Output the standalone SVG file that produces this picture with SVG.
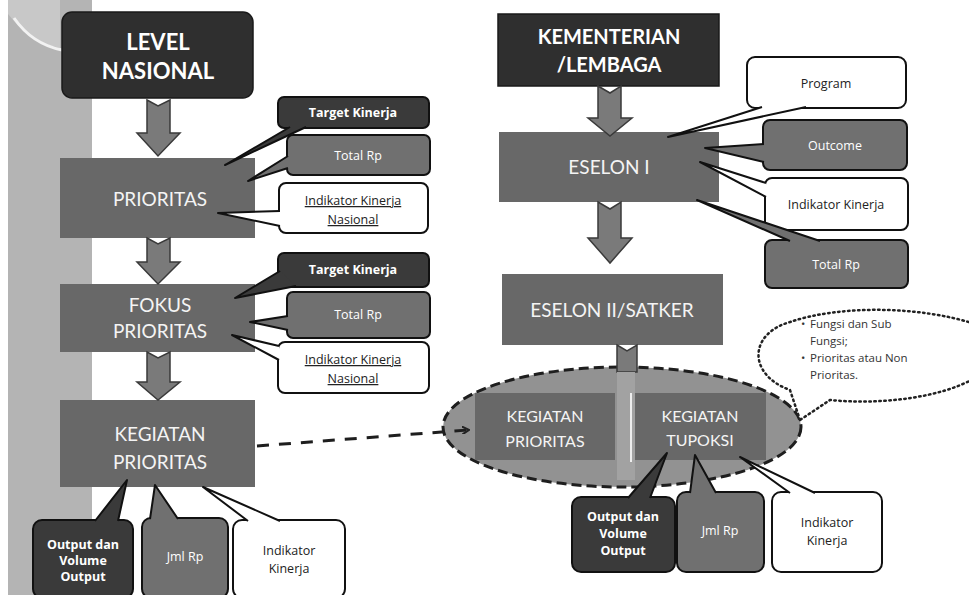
<svg xmlns="http://www.w3.org/2000/svg" width="969" height="595" viewBox="0 0 969 595">
<defs>
<style>
.bg{fill:#fff}
.strip{fill:#b4b4b4}
.hdr{fill:#2f2f2f;stroke:#1a1a1a;stroke-width:1.5}
.main{fill:#686868}
.cdark{fill:#3a3a3a;stroke:#111;stroke-width:2}
.cgray{fill:#707070;stroke:#111;stroke-width:2}
.cwhite{fill:#fff;stroke:#111;stroke-width:2}
.tdark{fill:#3a3a3a;stroke:#111;stroke-width:2;stroke-linejoin:round}
.tgray{fill:#707070;stroke:#111;stroke-width:2;stroke-linejoin:round}
.twhite{fill:#fff;stroke:#111;stroke-width:2;stroke-linejoin:round}
.barrow{fill:#7a7a7a;stroke:#3a3a3a;stroke-width:1.5}
.h1{font-family:Lato,"Liberation Sans",sans-serif;font-weight:bold;fill:#fff;text-anchor:middle}
.h2{font-family:Lato,"Liberation Sans",sans-serif;fill:#f4f4f4;text-anchor:middle}
.cw{font-family:"Open Sans","Liberation Sans",sans-serif;font-size:12.5px;fill:#fff;text-anchor:middle}
.cd{font-family:"Open Sans","Liberation Sans",sans-serif;font-size:12.5px;fill:#222;text-anchor:middle}
.note{font-family:"Open Sans","Liberation Sans",sans-serif;font-size:11.5px;fill:#333}
</style>
<marker id="ah" markerWidth="8" markerHeight="8" refX="6" refY="4" orient="auto" markerUnits="userSpaceOnUse">
<path d="M0,0 L7,4 L0,8" fill="none" stroke="#222" stroke-width="2"/>
</marker>
</defs>
<rect class="bg" x="0" y="0" width="969" height="595"/>
<g id="strip">
<rect class="strip" x="8" y="0" width="84" height="595"/>
<path d="M8,0 L60,0 L60,48 Q30,42 8,14 Z" fill="#c8c8c8"/>
<path d="M14,18 Q32,44 62,50" fill="none" stroke="#f2f2f2" stroke-width="3"/>
</g>

<g id="level-nasional">
<rect class="hdr" x="62" y="12" width="191" height="86" rx="10"/>
<text class="h1" x="158" y="50" font-size="22">LEVEL</text>
<text class="h1" x="158" y="79" font-size="22">NASIONAL</text>
</g>
<g id="prioritas">
<rect class="main" x="60" y="158" width="195" height="80"/>
<text class="h2" x="160" y="206" font-size="19">PRIORITAS</text>
</g>
<g id="fokus-prioritas">
<rect class="main" x="60" y="284" width="195" height="68"/>
<text class="h2" x="160" y="312" font-size="19">FOKUS</text>
<text class="h2" x="160" y="338" font-size="19">PRIORITAS</text>
</g>
<g id="kegiatan-prioritas">
<rect class="main" x="60" y="400" width="195" height="87"/>
<text class="h2" x="160" y="441" font-size="19">KEGIATAN</text>
<text class="h2" x="160" y="469" font-size="19">PRIORITAS</text>
</g>

<g id="p-target">
<rect class="cdark" x="278" y="97" width="151" height="31" rx="6"/>
<text class="cw" x="353" y="117" font-size="12" font-weight="bold">Target Kinerja</text>
</g>
<g id="p-total">
<rect class="cgray" x="287" y="135" width="143" height="40" rx="6"/>
<text class="cw" x="358" y="160">Total  Rp</text>
</g>
<g id="p-indikator">
<rect class="cwhite" x="279" y="183" width="149" height="50" rx="7"/>
<text class="cd" x="353" y="205" font-size="11.5" text-decoration="underline">Indikator Kinerja</text>
<text class="cd" x="353" y="224" font-size="11.5" text-decoration="underline">Nasional</text>
</g>
<g id="f-target">
<rect class="cdark" x="278" y="253" width="151" height="34" rx="6"/>
<text class="cw" x="353" y="274" font-size="12" font-weight="bold">Target Kinerja</text>
</g>
<g id="f-total">
<rect class="cgray" x="287" y="292" width="143" height="46" rx="6"/>
<text class="cw" x="358" y="319">Total  Rp</text>
</g>
<g id="f-indikator">
<rect class="cwhite" x="278" y="342" width="151" height="51" rx="7"/>
<text class="cd" x="353" y="364" font-size="11.5" text-decoration="underline">Indikator Kinerja</text>
<text class="cd" x="353" y="383" font-size="11.5" text-decoration="underline">Nasional</text>
</g>
<g id="k-output">
<rect class="cdark" x="33" y="520" width="100" height="78" rx="9"/>
<text class="cw" x="83" y="549" font-size="12" font-weight="bold">Output dan</text>
<text class="cw" x="83" y="565" font-size="12" font-weight="bold">Volume</text>
<text class="cw" x="83" y="581" font-size="12" font-weight="bold">Output</text>
</g>
<g id="k-jml">
<rect class="cgray" x="142" y="518" width="86" height="80" rx="9"/>
<text class="cw" x="185" y="561">Jml Rp</text>
</g>
<g id="k-indikator">
<rect class="cwhite" x="233" y="520" width="112" height="78" rx="9"/>
<text class="cd" x="289" y="555">Indikator</text>
<text class="cd" x="289" y="573">Kinerja</text>
</g>

<g id="kementerian">
<rect class="hdr" x="498" y="14" width="221" height="72"/>
<text class="h1" x="609" y="44" font-size="20">KEMENTERIAN</text>
<text class="h1" x="609" y="72" font-size="20">/LEMBAGA</text>
</g>
<g id="eselon-1">
<rect class="main" x="499" y="132" width="220" height="70"/>
<text class="h2" x="609" y="174" font-size="19">ESELON I</text>
</g>
<g id="eselon-2">
<rect class="main" x="502" y="274" width="221" height="71"/>
<text class="h2" x="612" y="317" font-size="19">ESELON II/SATKER</text>
</g>
<g id="kegiatan-group">
<ellipse cx="622" cy="427" rx="179" ry="60" fill="#929292" stroke="#1e1e1e" stroke-width="3" stroke-dasharray="10 5"/>
</g>
<g id="r-kegiatan-prioritas">
<rect class="main" x="475" y="393" width="140" height="67"/>
<text class="h2" x="545" y="422" font-size="16">KEGIATAN</text>
<text class="h2" x="545" y="447" font-size="16">PRIORITAS</text>
</g>
<g id="r-kegiatan-tupoksi">
<rect class="main" x="635" y="393" width="131" height="67"/>
<text class="h2" x="700" y="422" font-size="16">KEGIATAN</text>
<text class="h2" x="700" y="446" font-size="16">TUPOKSI</text>
</g>
<g id="e-program">
<rect class="cwhite" x="747" y="57" width="159" height="51" rx="8"/>
<text class="cd" x="826" y="88">Program</text>
</g>
<g id="e-outcome">
<rect class="cgray" x="763" y="120" width="144" height="50" rx="7"/>
<text class="cw" x="835" y="150">Outcome</text>
</g>
<g id="e-indikator">
<rect class="cwhite" x="765" y="178" width="143" height="52" rx="7"/>
<text class="cd" x="836" y="209">Indikator Kinerja</text>
</g>
<g id="e-total">
<rect class="cgray" x="765" y="240" width="143" height="48" rx="7"/>
<text class="cw" x="836" y="269">Total  Rp</text>
</g>
<g id="t-output">
<rect class="cdark" x="572" y="497" width="103" height="75" rx="9"/>
<text class="cw" x="623" y="521" font-size="12" font-weight="bold">Output dan</text>
<text class="cw" x="623" y="538" font-size="12" font-weight="bold">Volume</text>
<text class="cw" x="623" y="555" font-size="12" font-weight="bold">Output</text>
</g>
<g id="t-jml">
<rect class="cgray" x="677" y="492" width="87" height="80" rx="9"/>
<text class="cw" x="720" y="535">Jml Rp</text>
</g>
<g id="t-indikator">
<rect class="cwhite" x="772" y="492" width="110" height="80" rx="9"/>
<text class="cd" x="827" y="527">Indikator</text>
<text class="cd" x="827" y="545">Kinerja</text>
</g>
<g id="note">
<path d="M800,420 L790,390 C748,375 748,334 790,322 C840,305 920,306 975,324 L975,378 C940,398 880,405 830,400 Z" fill="#fff" stroke="#222" stroke-width="2.5" stroke-dasharray="1.5 3.5" stroke-linecap="round"/>
<text class="note" x="801" y="328">•</text>
<text class="note" x="810" y="328">Fungsi dan Sub</text>
<text class="note" x="810" y="345">Fungsi;</text>
<text class="note" x="801" y="362">•</text>
<text class="note" x="810" y="362">Prioritas atau Non</text>
<text class="note" x="810" y="379">Prioritas.</text>
</g>

<g id="connectors">
<path class="barrow" d="M147,100 L158,106 L170,100 L170,133 L180,133 L158,156 L137,133 L147,133 Z"/>
<path class="barrow" d="M147,238 L158,244 L170,238 L170,262 L180,262 L158,284 L137,262 L147,262 Z"/>
<path class="barrow" d="M147,352 L158,358 L170,352 L170,382 L180,382 L158,400 L137,382 L147,382 Z"/>
<path class="barrow" d="M598,86 L610,93 L621,86 L621,118 L632,118 L610,136 L588,118 L598,118 Z"/>
<path class="barrow" d="M598,202 L610,209 L621,202 L621,238 L632,238 L610,263 L588,238 L598,238 Z"/>
<path class="barrow" d="M617,345 L627,351 L637,345 L637,372 L617,372 Z"/>
<rect x="617" y="372" width="18" height="108" fill="#a2a2a2"/>
<line x1="631" y1="393" x2="631" y2="462" stroke="#eee" stroke-width="2"/>
<path d="M257,446 L468,430" fill="none" stroke="#1e1e1e" stroke-width="3" stroke-dasharray="12 10" marker-end="url(#ah)"/>

<polyline class="tdark" points="290,127 225,165 306,127"/>
<polyline class="tgray" points="288,156 248,181 288,168"/>
<polyline class="twhite" points="280,211 218,213 280,226"/>
<polyline class="tdark" points="280,271 235,298 296,286"/>
<polyline class="tgray" points="288,316 250,322 288,330"/>
<polyline class="twhite" points="279,346 232,335 279,360"/>
<polyline class="tdark" points="95,521 127,480 118,521"/>
<polyline class="tgray" points="150,519 155,485 178,519"/>
<polyline class="twhite" points="248,521 203,487 280,521"/>
<polyline class="twhite" points="762,107 668,137 806,107"/>
<polyline class="tgray" points="764,144 705,148 764,162"/>
<polyline class="twhite" points="766,183 700,162 766,197"/>
<polyline class="tgray" points="790,241 697,200 820,241"/>
<polyline class="tdark" points="628,498 667,453 650,498"/>
<polyline class="tgray" points="690,493 695,455 716,493"/>
<polyline class="twhite" points="790,493 740,457 815,493"/>
</g>
</svg>
